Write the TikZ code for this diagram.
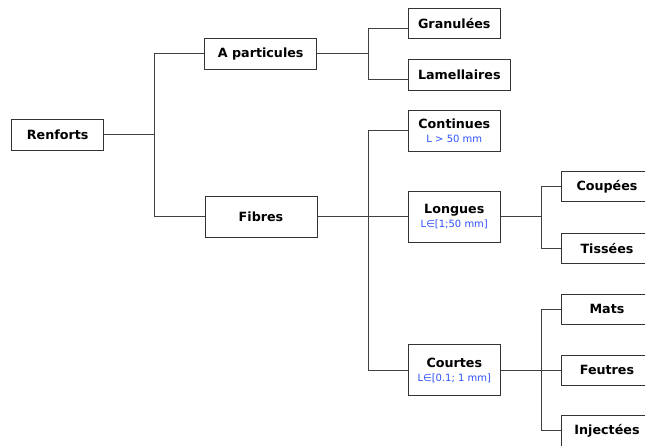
\documentclass[tikz,border=0pt]{standalone}
\usepackage{xcolor}
\usepackage{fontspec}
\setmainfont{DejaVu Sans}
\usepackage{tikz}
\usetikzlibrary{positioning, calc}
\definecolor{lenblue}{RGB}{45,80,255}
\newcommand{\lenrange}[1]{{\mdseries\fontsize{10}{12}\selectfont\color{lenblue}#1}}

\begin{document}
\begin{tikzpicture}[x=1pt, y=-1pt,
    box/.style={rectangle, draw=black!80, line width=1pt, minimum width=92pt, minimum height=31pt, inner sep=0pt, align=center, font=\fontsize{12.7}{14}\selectfont\bfseries},
    tallbox/.style={box, minimum height=51pt},
    link/.style={draw=black!75, line width=1pt}
]
\useasboundingbox (0,0) rectangle (645,445);
\clip (0,0) rectangle (645,445);

\node[box] (ren) at (57.7,134.7) {Renforts};
\node[box, minimum width=112pt] (apar) at (260.7,53.8) {A particules};
\node[box, minimum width=112pt, minimum height=41pt] (fib) at (261,216.5) {Fibres};

\node[box, minimum height=30pt] (gra) at (454.3,23.8) {Granulées};
\node[box, minimum width=102pt, minimum height=30.5pt] (lam) at (459.3,75) {Lamellaires};
\node[box, minimum height=41pt] (con) at (454.3,130.5) {Continues\\\lenrange{L > 50 mm}};
\node[tallbox] (lon) at (454.3,216.5) {Longues\\\lenrange{L∈[1;50 mm]}};
\node[tallbox] (cou) at (454.3,370) {Courtes\\\lenrange{L∈[0.1; 1 mm]}};

\node[box, minimum height=30pt] (cop) at (607,186.7) {Coupées};
\node[box, minimum height=30pt] (tis) at (607,248.2) {Tissées};
\node[box, minimum height=30pt] (mat) at (607,309.2) {Mats};
\node[box, minimum height=30pt] (feu) at (607,370) {Feutres};
\node[box, minimum height=31pt] (inj) at (607,430.5) {Injectées};

% level 1
\draw[link] (ren.east) -- ++(50.3,0) coordinate (j1);
\draw[link] (apar.west) -| (j1) |- (fib.west);

% particules
\draw[link] (apar.east) -- ++(51,0) coordinate (j2);
\draw[link] ([yshift=-4.5pt]gra.west) -| (j2) |- ([yshift=-4pt]lam.west);

% fibres
\coordinate (j3) at ($(fib.east)+(51,0)$);
\draw[link] (fib.east) -- (lon.west);
\draw[link] (con.west) -| (j3) |- (cou.west);

\draw[link] (lon.east) -- ++(41,0) coordinate (j4);
\draw[link] (cop.west) -| (j4) |- (tis.west);

\coordinate (j5) at ($(cou.east)+(41,0)$);
\draw[link] (cou.east) -- (feu.west);
\draw[link] (mat.west) -| (j5) |- (inj.west);
\end{tikzpicture}
\end{document}
